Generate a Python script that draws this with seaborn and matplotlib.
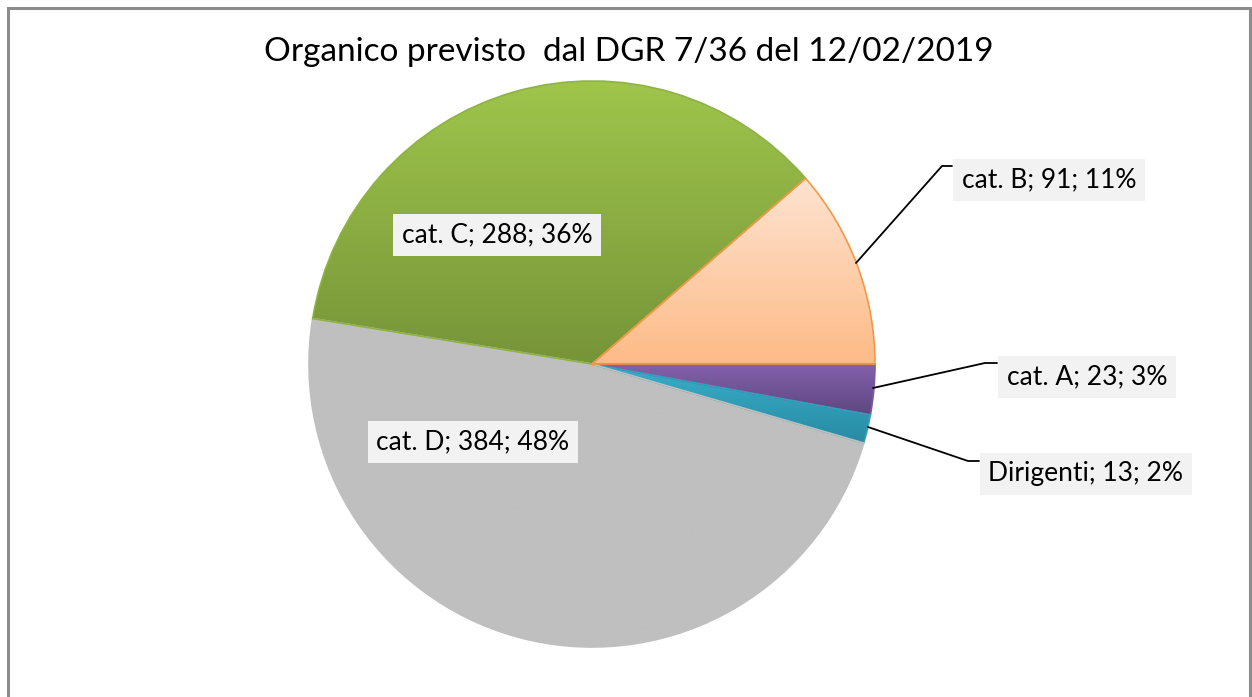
import numpy as np
import matplotlib
matplotlib.use("Agg")
import matplotlib.pyplot as plt
import seaborn as sns
from matplotlib.colors import LinearSegmentedColormap
from matplotlib.patches import Rectangle

sns.set_theme(style="white")
plt.rcParams['font.family'] = ['Lato', 'DejaVu Sans']

# Dati (ordine in senso orario a partire dalle ore 3)
categorie = ['cat. A', 'Dirigenti', 'cat. D', 'cat. C', 'cat. B']
valori = [23, 13, 384, 288, 91]
percentuali = ['3%', '2%', '48%', '36%', '11%']
titolo = 'Organico previsto  dal DGR 7/36 del 12/02/2019'

# gradienti (alto, basso) e bordo
colori_alto = ['#8461AC', '#3AAFCB', '#BFBFBF', '#9FC54C', '#FEE3D0']
colori_basso = ['#5E4780', '#288BA3', '#BFBFBF', '#769438', '#FDBB86']
bordi = ['#7A5CA0', '#33A0BC', '#BFBFBF', '#8DB344', '#F79646']

W, H = 1252, 697
fig = plt.figure(figsize=(W / 100, H / 100), dpi=100)
ax = fig.add_axes([0, 0, 1, 1])

cx, cy, r = 592, H - 364, 283
wedges, _ = ax.pie(valori, startangle=0, counterclock=False, radius=r,
                   center=(cx, cy), colors=colori_alto,
                   wedgeprops=dict(linewidth=1.2))
ax.set_xlim(0, W)
ax.set_ylim(0, H)
ax.set_aspect('equal')
ax.axis('off')

# riempimento sfumato dentro ogni spicchio
for w, c1, c2, ec in zip(wedges, colori_alto, colori_basso, bordi):
    w.set_edgecolor(ec)
    bb = w.get_path().get_extents(w.get_transform())
    bb = ax.transData.inverted().transform(bb.get_points())
    (x0, y0), (x1, y1) = bb
    cmap = LinearSegmentedColormap.from_list('g', [c2, c1])
    grad = np.linspace(0, 1, 256).reshape(-1, 1)
    im = ax.imshow(grad, cmap=cmap, origin='lower', aspect='auto',
                   extent=(x0, x1, y0, y1), zorder=w.get_zorder() + 0.1)
    im.set_clip_path(w)
    w.set_zorder(w.get_zorder() + 0.2)
    w.set_facecolor('none')

ax.set_xlim(0, W)
ax.set_ylim(0, H)

# etichette: centro in pixel dall'alto, linee guida
box_style = dict(boxstyle='square,pad=0.33', facecolor='#F2F2F2', edgecolor='none')
posizioni = {
    'cat. A': (1087, 377),
    'Dirigenti': (1086, 474),
    'cat. D': (473, 442),
    'cat. C': (497, 235),
    'cat. B': (1049, 180),
}
guide = {
    'cat. A': [(873, 388), (985, 363), (997, 363)],
    'Dirigenti': [(868, 427), (968, 461), (979, 461)],
    'cat. B': [(856, 263), (942, 166), (952, 166)],
}
for cat, val, pct in zip(categorie, valori, percentuali):
    px, py = posizioni[cat]
    ax.text(px, H - py, f'{cat}; {val}; {pct}', ha='center', va='center',
            fontsize=19, color='black', bbox=box_style, zorder=10)
    if cat in guide:
        xs = [p[0] for p in guide[cat]]
        ys = [H - p[1] for p in guide[cat]]
        ax.plot(xs, ys, color='black', linewidth=1.3, zorder=9)

ax.text(629, H - 52, titolo, ha='center', va='center', fontsize=24, color='black')

# cornice del grafico
ax.add_patch(Rectangle((8, -10), 1242, H - 8 + 10, fill=False,
                       edgecolor='#8C8C8C', linewidth=2.2, zorder=20))

fig.savefig('out.png', dpi=100)
